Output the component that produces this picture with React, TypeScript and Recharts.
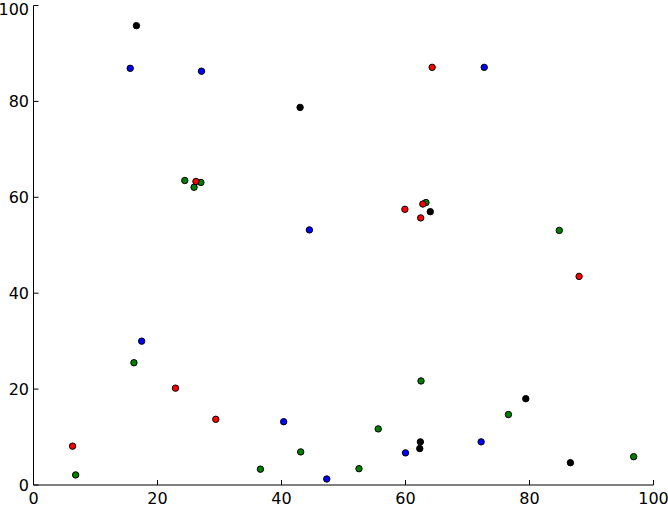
import React from 'react';
import { ScatterChart, Scatter, XAxis, YAxis } from 'recharts';

const ticks = [0, 20, 40, 60, 80, 100];

const greenX = [24.4, 25.9, 27.0, 63.3, 84.8, 16.2, 6.8, 36.6, 43.1, 52.5, 55.6, 62.5, 76.6, 96.8];
const greenY = [63.5, 62.1, 63.1, 58.9, 53.1, 25.5, 2.1, 3.3, 6.9, 3.4, 11.7, 21.7, 14.7, 5.9];

const blueX = [15.6, 27.1, 72.7, 44.5, 17.45, 40.35, 47.3, 60.0, 72.2];
const blueY = [86.9, 86.3, 87.1, 53.2, 30.0, 13.2, 1.25, 6.7, 9.0];

const blackX = [16.6, 43.0, 64.0, 62.4, 62.3, 79.4, 86.6];
const blackY = [95.8, 78.75, 57.0, 9.0, 7.6, 18.0, 4.65];

const redX = [64.3, 26.2, 59.9, 62.8, 62.45, 88.0, 6.3, 22.9, 29.4];
const redY = [87.1, 63.3, 57.5, 58.6, 55.7, 43.5, 8.1, 20.2, 13.7];

const toPoints = (xs: number[], ys: number[]) => xs.map((x, i) => ({ x, y: ys[i] }));

const series = [
  { name: 'green', color: '#008000', data: toPoints(greenX, greenY) },
  { name: 'blue', color: '#0000ff', data: toPoints(blueX, blueY) },
  { name: 'black', color: '#000000', data: toPoints(blackX, blackY) },
  { name: 'red', color: '#ff0000', data: toPoints(redX, redY) },
];

const makeShape = (color: string) => (props: any) => (
  <circle cx={props.cx} cy={props.cy} r={3.2} fill={color} stroke="#000" strokeWidth={1} />
);

const font = { fontFamily: 'DejaVu Sans', fontSize: 16, fill: '#000' };
const lineStyle = { stroke: '#000', strokeWidth: 1 };

export default function App() {
  return (
    <div style={{ position: 'absolute', left: 0, top: 0, background: '#fff' }}>
      <ScatterChart width={668} height={505} margin={{ top: 5.5, right: 14.5, bottom: 0, left: 0 }}>
        <XAxis
          xAxisId="b"
          dataKey="x"
          type="number"
          domain={[0, 100]}
          ticks={ticks}
          orientation="bottom"
          height={20}
          tickSize={-5}
          tickMargin={12.5}
          tick={font}
          axisLine={lineStyle}
          tickLine={lineStyle}
          allowDataOverflow
        />
        <XAxis
          xAxisId="t"
          dataKey="x"
          type="number"
          domain={[0, 100]}
          ticks={ticks}
          orientation="top"
          height={0}
          tickSize={-5}
          tick={false}
          axisLine={lineStyle}
          tickLine={lineStyle}
          allowDataOverflow
        />
        <YAxis
          yAxisId="l"
          dataKey="y"
          type="number"
          domain={[0, 100]}
          ticks={ticks}
          orientation="left"
          width={33.5}
          tickSize={-5}
          tickMargin={9.5}
          tick={font}
          axisLine={lineStyle}
          tickLine={lineStyle}
          allowDataOverflow
        />
        <YAxis
          yAxisId="r"
          dataKey="y"
          type="number"
          domain={[0, 100]}
          ticks={ticks}
          orientation="right"
          width={0}
          tickSize={-5}
          tick={false}
          axisLine={lineStyle}
          tickLine={lineStyle}
          allowDataOverflow
        />
        {series.map((s) => (
          <Scatter
            key={s.name}
            name={s.name}
            data={s.data}
            xAxisId="b"
            yAxisId="l"
            fill={s.color}
            shape={makeShape(s.color)}
            isAnimationActive={false}
          />
        ))}
      </ScatterChart>
    </div>
  );
}
